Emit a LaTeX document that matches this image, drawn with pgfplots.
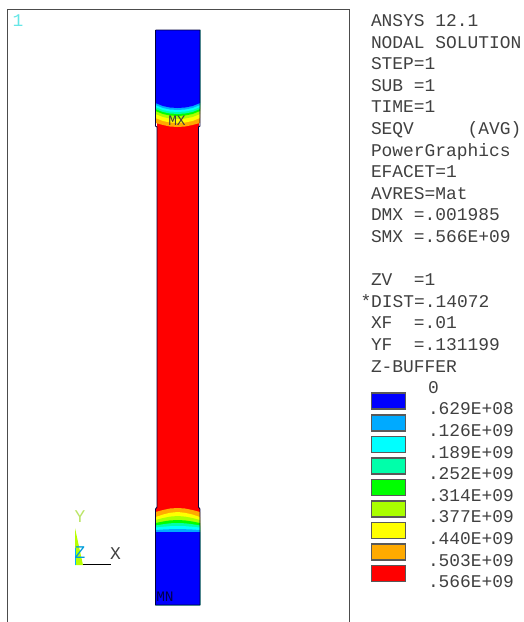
\documentclass[border=0pt]{standalone}
\usepackage{pgfplots}
\pgfplotsset{compat=1.18}
\usepackage{fontspec}
\setmainfont{Liberation Mono}
\definecolor{c1}{HTML}{0000FF}
\definecolor{c2}{HTML}{00AAFF}
\definecolor{c3}{HTML}{00FFFF}
\definecolor{c4}{HTML}{00FFAA}
\definecolor{c5}{HTML}{00FF00}
\definecolor{c6}{HTML}{AAFF00}
\definecolor{c7}{HTML}{FFFF00}
\definecolor{c8}{HTML}{FFAA00}
\definecolor{c9}{HTML}{FF0000}
\definecolor{txt}{HTML}{404040}
\newcommand{\band}[9]{\addplot[fill=#1,draw=none] coordinates {(155.5,#2)(200,#2)(200,#3)(192.5,#4)(185,#5)(177.75,#6)(170,#7)(163,#8)(155.5,#9)} -- cycle;}
\newcommand{\swatch}[3]{\addplot[fill=#1,draw=black!65,line width=1.2pt] coordinates {(371.5,#2)(405.5,#2)(405.5,#3)(371.5,#3)} -- cycle;}
\tikzset{lbl/.style={font=\fontsize{17.9}{20}\selectfont,text=txt,inner sep=0pt,outer sep=0pt,anchor=base west}}
\begin{document}
\begin{tikzpicture}[x=1pt,y=1pt]
\useasboundingbox (0,0) rectangle (523pt,622pt);
\begin{axis}[scale only axis,width=523pt,height=622pt,xmin=0,xmax=523,ymin=0,ymax=622,y dir=reverse,hide axis,clip=false]
% frame
\addplot[color=black!70,line width=0.9pt] coordinates {(7,622)(7,9.5)(349.5,9.5)(349.5,622)};
% body
\addplot[fill=c9,draw=none] coordinates {(157,120)(199,120)(199,510)(157,510)} -- cycle;
\addplot[fill=c9,draw=none] coordinates {(155.5,508)(200,508)(200,520)(155.5,520)} -- cycle;
% upper end (painted from the red side outwards)
\band{c8}{30}{123}{125}{126.5}{127}{126.5}{125}{123}
\band{c7}{30}{118}{121}{122.5}{123}{122.5}{121}{118}
\band{c6}{30}{114}{117}{118.5}{119}{118.5}{117}{114}
\band{c5}{30}{111}{114}{115.5}{116}{115.5}{114}{111}
\band{c4}{30}{109}{112}{113.5}{114}{113.5}{112}{109}
\band{c3}{30}{107}{110}{111.5}{112}{111.5}{110}{107}
\band{c2}{30}{105}{108}{109.5}{110}{109.5}{108}{105}
\band{c1}{30}{103}{106}{107.5}{108}{107.5}{106}{103}
% lower end
\band{c8}{605}{512}{510}{508.5}{508}{508.5}{510}{512}
\band{c7}{605}{517}{514.5}{512.8}{512}{512.8}{514.5}{517}
\band{c6}{605}{520}{518}{516.6}{516}{516.6}{518}{520}
\band{c5}{605}{523}{521.5}{520.4}{520}{520.4}{521.5}{523}
\band{c4}{605}{525.5}{524.2}{523.3}{523}{523.3}{524.2}{525.5}
\band{c3}{605}{527.5}{526.8}{526.2}{526}{526.2}{526.8}{527.5}
\band{c2}{605}{530}{529.5}{529.2}{529}{529.2}{529.5}{530}
\band{c1}{605}{532}{532}{532}{532}{532}{532}{532}
% outline
\addplot[color=black!60!blue!60!black,line width=0.9pt] coordinates {(155.5,30)(200,30)(200,126)(198.5,127)(198.5,507)(200,509)(200,605)(155.5,605)(155.5,509)(157,507)(157,127)(155.5,126)(155.5,30)};
\node[font=\fontsize{14.5}{14}\selectfont,text=black!75,inner sep=0pt] at (axis cs:177,120.5) {MX};
\node[font=\fontsize{14.5}{14}\selectfont,text=black!70!blue,inner sep=0pt] at (axis cs:165,597) {MN};
% triad
\addplot[fill=c6!85!yellow,draw=none] coordinates {(75,528)(83,565)(75,565)} -- cycle;
\addplot[color=c3!70!blue,line width=1pt] coordinates {(75,548)(75,565)};
\addplot[color=black,line width=0.9pt] coordinates {(83,564.5)(111,564.5)};
\node[lbl,anchor=center,text=c6!55!white!90!black] at (axis cs:80,517) {Y};
\node[lbl,anchor=center,text=c2!70!teal] at (axis cs:80,553) {Z};
\node[lbl,anchor=center] at (axis cs:115.5,553.5) {X};
\definecolor{one}{HTML}{66E6E6}
\node[lbl,anchor=center,text=one] at (axis cs:18,21) {1};
% annotation
\node[lbl] at (axis cs:371,26) {ANSYS 12.1};
\node[lbl] at (axis cs:371,48) {NODAL SOLUTION};
\node[lbl] at (axis cs:371,69) {STEP=1};
\node[lbl] at (axis cs:371,91) {SUB =1};
\node[lbl] at (axis cs:371,112) {TIME=1};
\node[lbl] at (axis cs:371,134) {SEQV\hspace{3em}(AVG)};
\node[lbl] at (axis cs:371,156) {PowerGraphics};
\node[lbl] at (axis cs:371,177) {EFACET=1};
\node[lbl] at (axis cs:371,199) {AVRES=Mat};
\node[lbl] at (axis cs:371,220) {DMX =.001985};
\node[lbl] at (axis cs:371,242) {SMX =.566E+09};
\node[lbl] at (axis cs:371,285) {ZV\hspace{0.6em} =1};
\node[lbl] at (axis cs:360.5,307) {*DIST=.14072};
\node[lbl] at (axis cs:371,328) {XF\hspace{0.6em} =.01};
\node[lbl] at (axis cs:371,350) {YF\hspace{0.6em} =.131199};
\node[lbl] at (axis cs:371,372) {Z-BUFFER};
% legend
\swatch{c1}{393}{409}
\swatch{c2}{415}{431}
\swatch{c3}{436.5}{452.5}
\swatch{c4}{458}{474}
\swatch{c5}{479.5}{495.5}
\swatch{c6}{501}{517}
\swatch{c7}{522.5}{538.5}
\swatch{c8}{544}{560}
\swatch{c9}{565.5}{581.5}
\node[lbl] at (axis cs:428,393) {0};
\node[lbl] at (axis cs:428,414) {.629E+08};
\node[lbl] at (axis cs:428,436) {.126E+09};
\node[lbl] at (axis cs:428,458) {.189E+09};
\node[lbl] at (axis cs:428,479) {.252E+09};
\node[lbl] at (axis cs:428,501) {.314E+09};
\node[lbl] at (axis cs:428,522) {.377E+09};
\node[lbl] at (axis cs:428,544) {.440E+09};
\node[lbl] at (axis cs:428,566) {.503E+09};
\node[lbl] at (axis cs:428,587) {.566E+09};
\end{axis}
\end{tikzpicture}
\end{document}
